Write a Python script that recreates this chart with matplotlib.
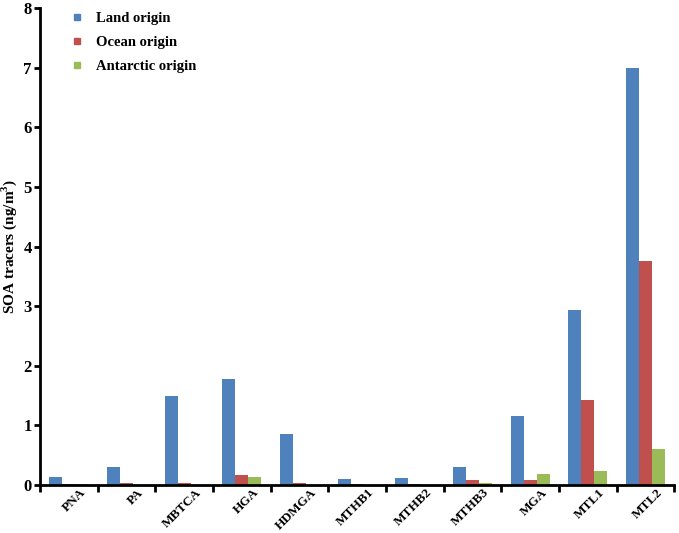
import matplotlib

matplotlib.use("Agg")
import matplotlib.pyplot as plt
import matplotlib.transforms as mtransforms
import numpy as np
from matplotlib.lines import Line2D

CATEGORIES = ["PNA", "PA", "MBTCA", "HGA", "HDMGA", "MTHB1", "MTHB2",
              "MTHB3", "MGA", "MTL1", "MTL2"]
LAND = [0.13, 0.31, 1.50, 1.77, 0.86, 0.10, 0.11, 0.30, 1.15, 2.93, 7.00]
OCEAN = [0.02, 0.04, 0.03, 0.16, 0.03, 0.02, 0.01, 0.09, 0.08, 1.42, 3.76]
ANTARCTIC = [0.01, 0.0, 0.0, 0.13, 0.0, 0.0, 0.0, 0.03, 0.18, 0.23, 0.60]
SERIES_LABELS = ["Land origin", "Ocean origin", "Antarctic origin"]
COLORS = ["#4F81BD", "#C0504D", "#9BBB59"]

plt.rcParams["font.family"] = ["Liberation Serif", "DejaVu Serif"]
plt.rcParams["font.weight"] = "bold"
plt.rcParams["mathtext.fontset"] = "custom"
plt.rcParams["mathtext.rm"] = "Liberation Serif:bold"
plt.rcParams["mathtext.bf"] = "Liberation Serif:bold"

fig = plt.figure(figsize=(6.79, 5.33), dpi=100)
ax = fig.add_axes([0.059, 0.09, 0.934, 0.895])

x = np.arange(len(CATEGORIES))
width = 0.225
for offset, values, color, label in zip(
    (-width, 0.0, width), (LAND, OCEAN, ANTARCTIC), COLORS, SERIES_LABELS
):
    ax.bar(x + offset, values, width=width, color=color, label=label,
           edgecolor="none")

ax.set_xlim(-0.5, len(CATEGORIES) - 0.5)
ax.set_ylim(0, 8)
ax.set_yticks(range(0, 9))
ax.tick_params(axis="y", labelsize=12, width=2, length=4, direction="out",
               pad=2)

# tick marks sit between categories, labels at centres
ax.set_xticks(np.arange(-0.5, len(CATEGORIES), 1.0))
ax.set_xticklabels([])
ax.tick_params(axis="x", which="major", width=2, length=5, direction="out")
ax.set_xticks(x, minor=True)
ax.set_xticklabels(CATEGORIES, minor=True, rotation=45, ha="right",
                   va="center", rotation_mode="anchor", fontsize=9.5,
                   fontweight="bold")
ax.tick_params(axis="x", which="minor", length=0, pad=4)
shift = mtransforms.ScaledTranslation(15 / 100, 0, fig.dpi_scale_trans)
for lbl in ax.get_xticklabels(minor=True):
    lbl.set_transform(lbl.get_transform() + shift)

for side in ("top", "right"):
    ax.spines[side].set_visible(False)
for side in ("left", "bottom"):
    ax.spines[side].set_linewidth(2)

ax.set_ylabel(r"SOA tracers (ng/m$^{3}$)", fontsize=11, fontweight="bold",
              labelpad=3)

handles = [Line2D([], [], marker="s", linestyle="none", markersize=4.5,
                  color=c) for c in COLORS]
ax.legend(handles, SERIES_LABELS, loc="upper left", frameon=False,
          bbox_to_anchor=(0.015, 1.02), labelspacing=0.75,
          handletextpad=0.3, prop={"weight": "bold", "size": 10.5})

fig.savefig("out.png", dpi=100)
